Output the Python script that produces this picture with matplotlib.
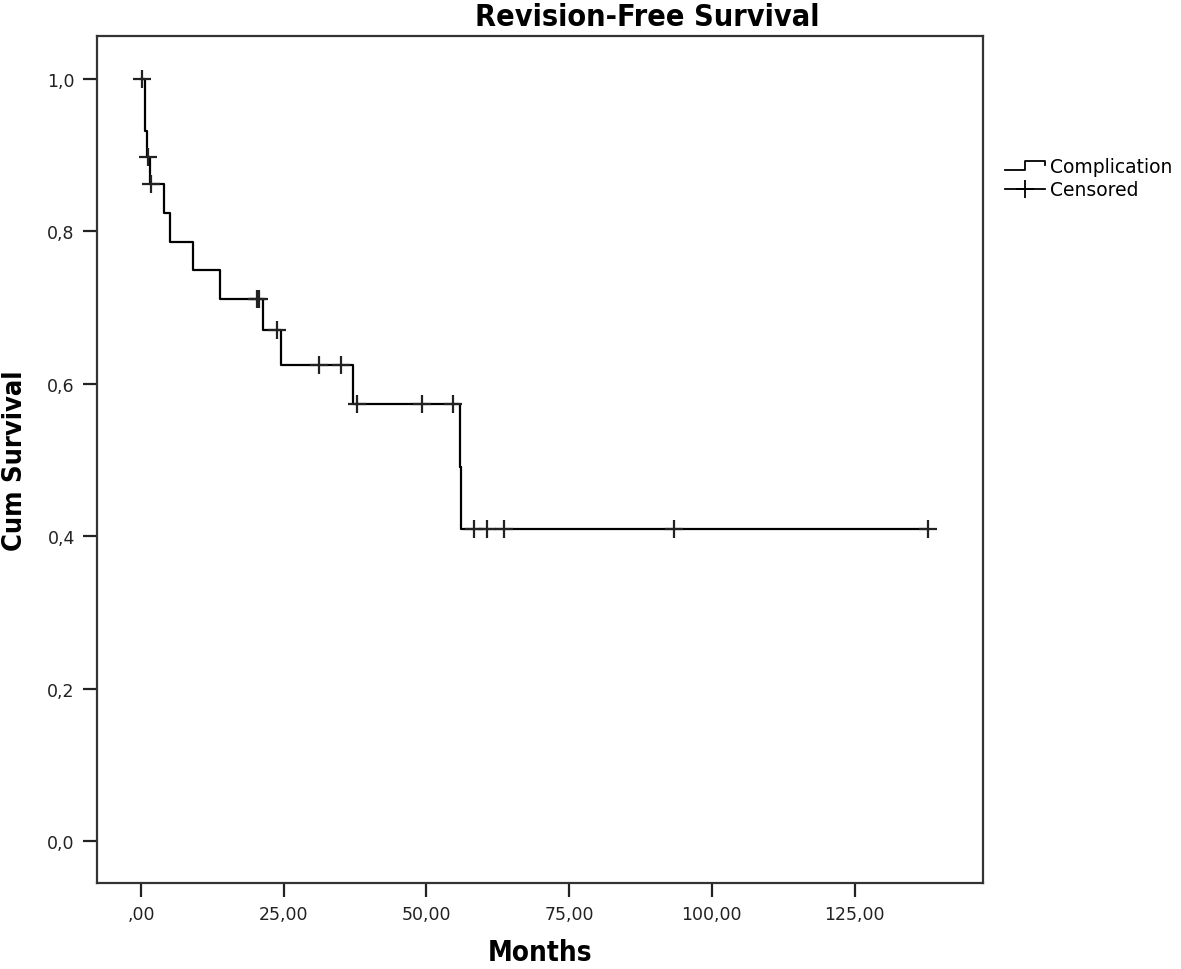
import numpy as np
import matplotlib.pyplot as plt
from matplotlib.lines import Line2D
from matplotlib.legend_handler import HandlerBase

# Kaplan-Meier steps (months, cumulative survival)
step_times = [0, 0.76, 1.05, 1.6, 3.97, 5.1, 9.05, 13.8, 21.3, 24.6, 37.1, 55.8, 56.1]
step_surv = [1.0, 0.931, 0.897, 0.862, 0.824, 0.786, 0.749, 0.711, 0.670, 0.625, 0.573, 0.491, 0.409]
last_time = 137.9

# censored observations
cens_times = [0.18, 1.17, 1.8, 20.4, 20.7, 23.9, 31.1, 35.1, 37.9, 49.3, 54.7,
              58.4, 60.7, 63.6, 93.3, 137.9]
cens_surv = [1.0, 0.897, 0.862, 0.711, 0.711, 0.670, 0.625, 0.625, 0.573, 0.573, 0.573,
             0.409, 0.409, 0.409, 0.409, 0.409]

x_ticks = [0, 25, 50, 75, 100, 125]
y_ticks = [0.0, 0.2, 0.4, 0.6, 0.8, 1.0]

narrow = ['DejaVu Sans', 'Liberation Sans']


class StepHandler(HandlerBase):
    def create_artists(self, legend, orig_handle, xdescent, ydescent,
                       width, height, fontsize, trans):
        x0 = -xdescent
        y0 = -ydescent
        xs = [x0, x0 + 0.5 * width, x0 + 0.5 * width, x0 + width, x0 + width]
        ys = [y0 + 0.2 * height, y0 + 0.2 * height, y0 + 0.85 * height,
              y0 + 0.85 * height, y0 + 0.55 * height]
        ln = Line2D(xs, ys, color='black', linewidth=1.3, transform=trans)
        return [ln]


fig = plt.figure(figsize=(11.81, 9.70), dpi=100)
ax = fig.add_axes([97 / 1181, 1 - 884 / 970, (983 - 97) / 1181, (884 - 37) / 970])

ax.step(step_times + [last_time], step_surv + [step_surv[-1]], where='post',
        color='black', linewidth=1.6)
ax.plot(cens_times, cens_surv, linestyle='none', marker='+', markersize=13,
        markeredgewidth=1.6, color='#222222')

ax.set_xlim(-7.7, 147.5)
ax.set_ylim(-0.055, 1.056)
ax.set_xticks(x_ticks)
ax.set_xticklabels([',00' if v == 0 else f'{v:.2f}'.replace('.', ',') for v in x_ticks])
ax.set_yticks(y_ticks)
ax.set_yticklabels([f'{v:.1f}'.replace('.', ',') for v in y_ticks])
ax.tick_params(direction='out', length=10, width=1.6, labelsize=12.5, pad=6,
               colors='#222222')

for s in ax.spines.values():
    s.set_linewidth(1.6)
    s.set_color('#333333')

ax.set_xlabel('Months', fontsize=20, fontweight='bold', family=narrow,
              fontstretch='condensed', labelpad=11)
ax.set_ylabel('Cum Survival', fontsize=19.5, fontweight='bold', family=narrow,
              fontstretch='condensed')
ax.yaxis.set_label_coords(-(97 - 28) / (983 - 97), 0.5)

fig.text(647 / 1181, 1 - 17 / 970, 'Revision-Free Survival', ha='center', va='center',
         fontsize=22, fontweight='bold', family=narrow, fontstretch='condensed')

h_event = Line2D([], [], color='black')
h_cens = Line2D([], [], color='black', marker='+', markersize=13, markeredgewidth=1.3,
                linewidth=1.3)
fig.legend([h_event, h_cens], ['Complication', 'Censored'],
           handler_map={h_event: StepHandler()},
           loc='upper left', bbox_to_anchor=(996 / 1181, 1 - 149 / 970),
           frameon=False, fontsize=13.5, handlelength=2.1, handletextpad=0.3,
           labelspacing=0.2, borderpad=0)

fig.savefig('out.png', dpi=100)
